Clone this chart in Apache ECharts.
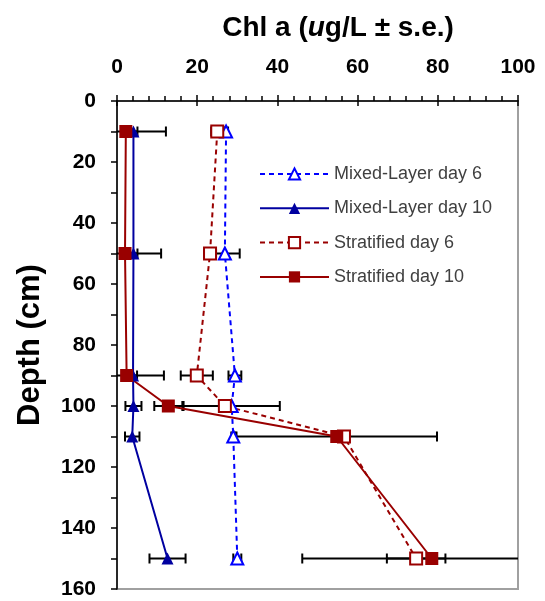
<!DOCTYPE html>
<html>
<head>
<meta charset="utf-8">
<script src="https://cdn.jsdelivr.net/npm/echarts@6/dist/echarts.min.js"></script>
<style>html,body{margin:0;padding:0;background:#fff}#c{width:545px;height:601px}</style>
</head>
<body>
<div id="c"></div>
<script>
const depths = [10, 50, 90, 100, 110, 150];
const mixed6 = [27.2, 26.9, 29.4, 28.6, 29.0, 30.0];
const mixed6Err = [0.5, 3.7, 1.6, 12, 0.5, 1];
const mixed10 = [4.1, 4.1, 4.0, 4.1, 3.8, 12.6];
const mixed10Err = [1, 1, 1, 2, 1.8, 4.5];
const strat6 = [25.0, 23.2, 19.9, 26.9, 56.6, 74.6];
const strat6Err = [1.5, 1.5, 4, 1, 1, 7.3];
const strat10 = [2.2, 2.0, 2.4, 12.8, 54.8, 78.5];
const strat10Err = [10, 9, 9.3, 3.5, 25, 32.3];
const xTicks = [0, 20, 40, 60, 80, 100];
const yTicks = [0, 20, 40, 60, 80, 100, 120, 140, 160];

const FONT = "'Liberation Sans', Arial, sans-serif";
const pts = (vals) => vals.map((v, i) => [v, depths[i]]);
const errPts = (vals, errs) => vals.map((v, i) => [v, depths[i], errs[i]]);

function renderErr(params, api) {
  const x = api.value(0), d = api.value(1), e = api.value(2);
  const lo = Math.max(xTicks[0], x - e), hi = Math.min(xTicks[xTicks.length - 1], x + e);
  const p1 = api.coord([lo, d]), p2 = api.coord([hi, d]);
  const style = { stroke: '#000', lineWidth: 2 };
  const children = [{ type: 'line', shape: { x1: p1[0], y1: p1[1], x2: p2[0], y2: p2[1] }, style }];
  const h = 5;
  if (lo === x - e) children.push({ type: 'line', shape: { x1: p1[0], y1: p1[1] - h, x2: p1[0], y2: p1[1] + h }, style });
  if (hi === x + e) children.push({ type: 'line', shape: { x1: p2[0], y1: p2[1] - h, x2: p2[0], y2: p2[1] + h }, style });
  return { type: 'group', children };
}

function errSeries(vals, errs) {
  return {
    type: 'custom', xAxisIndex: 0, yAxisIndex: 0, z: 1,
    data: errPts(vals, errs), renderItem: renderErr, silent: true, tooltip: { show: false }
  };
}

const blue = '#0000ff', navy = '#0000a0', red = '#990000';

const chart = echarts.init(document.getElementById('c'));
chart.setOption({
  animation: false,
  backgroundColor: '#fff',
  title: {
    text: '{b|Chl a (}{i|u}{b|g/L ± s.e.)}',
    left: 333, top: 9, textAlign: 'center',
    textStyle: {
      rich: {
        b: { fontFamily: FONT, fontWeight: 'bold', fontSize: 28, color: '#000' },
        i: { fontFamily: FONT, fontWeight: 'bold', fontStyle: 'italic', fontSize: 28, color: '#000' }
      }
    }
  },
  legend: {
    orient: 'vertical', left: 254, top: 160,
    itemWidth: 69, itemHeight: 14, itemGap: 16.3,
    textStyle: { fontFamily: FONT, fontSize: 18, color: '#404040' },
    data: ['Mixed-Layer day 6', 'Mixed-Layer day 10', 'Stratified day 6', 'Stratified day 10']
  },
  grid: { left: 117, right: 27, top: 101, bottom: 12, show: true, borderColor: '#a0a0a0', borderWidth: 2, backgroundColor: 'transparent' },
  xAxis: [{
    type: 'value', position: 'top', min: xTicks[0], max: xTicks[xTicks.length - 1], interval: 20,
    axisLine: { show: true, lineStyle: { color: '#000', width: 1.5 } },
    axisTick: { show: true, length: 6, lineStyle: { color: '#000', width: 1.5 } },
    minorTick: { show: true, splitNumber: 5, length: 5, lineStyle: { color: '#000', width: 1.5 } },
    splitLine: { show: false },
    axisLabel: { fontFamily: FONT, fontWeight: 'bold', fontSize: 21, color: '#000', margin: 23 }
  }, {
    type: 'value', position: 'top', min: xTicks[0], max: xTicks[xTicks.length - 1], interval: 20,
    axisLine: { show: false },
    axisTick: { show: true, inside: true, length: 5, lineStyle: { color: '#000', width: 1.5 } },
    splitLine: { show: false }, axisLabel: { show: false }
  }],
  yAxis: [{
    type: 'value', inverse: true, min: yTicks[0], max: yTicks[yTicks.length - 1], interval: 20,
    name: 'Depth (cm)', nameLocation: 'middle', nameGap: 71,
    nameTextStyle: { fontFamily: FONT, fontWeight: 'bold', fontSize: 31, color: '#000' },
    axisLine: { show: true, lineStyle: { color: '#000', width: 1.5 } },
    axisTick: { show: true, length: 6, lineStyle: { color: '#000', width: 1.5 } },
    minorTick: { show: true, splitNumber: 2, length: 6, lineStyle: { color: '#000', width: 1.5 } },
    splitLine: { show: false },
    axisLabel: { fontFamily: FONT, fontWeight: 'bold', fontSize: 21, color: '#000', margin: 21 }
  }],
  series: [
    errSeries(mixed6, mixed6Err),
    errSeries(mixed10, mixed10Err),
    errSeries(strat6, strat6Err),
    errSeries(strat10, strat10Err),
    {
      name: 'Mixed-Layer day 6', type: 'line', z: 3, data: pts(mixed6),
      symbol: 'emptyTriangle', symbolSize: 12,
      lineStyle: { color: blue, width: 2, type: [5, 4] },
      itemStyle: { color: blue, borderColor: blue, borderWidth: 2 }
    },
    {
      name: 'Mixed-Layer day 10', type: 'line', z: 3, data: pts(mixed10),
      symbol: 'triangle', symbolSize: 12,
      lineStyle: { color: navy, width: 2 },
      itemStyle: { color: navy }
    },
    {
      name: 'Stratified day 6', type: 'line', z: 3, data: pts(strat6),
      symbol: 'emptyRect', symbolSize: 12,
      lineStyle: { color: red, width: 2, type: [5, 4] },
      itemStyle: { color: red, borderColor: red, borderWidth: 2 }
    },
    {
      name: 'Stratified day 10', type: 'line', z: 3, data: pts(strat10),
      symbol: 'rect', symbolSize: 13,
      lineStyle: { color: red, width: 2 },
      itemStyle: { color: red }
    }
  ]
});
</script>
</body>
</html>
